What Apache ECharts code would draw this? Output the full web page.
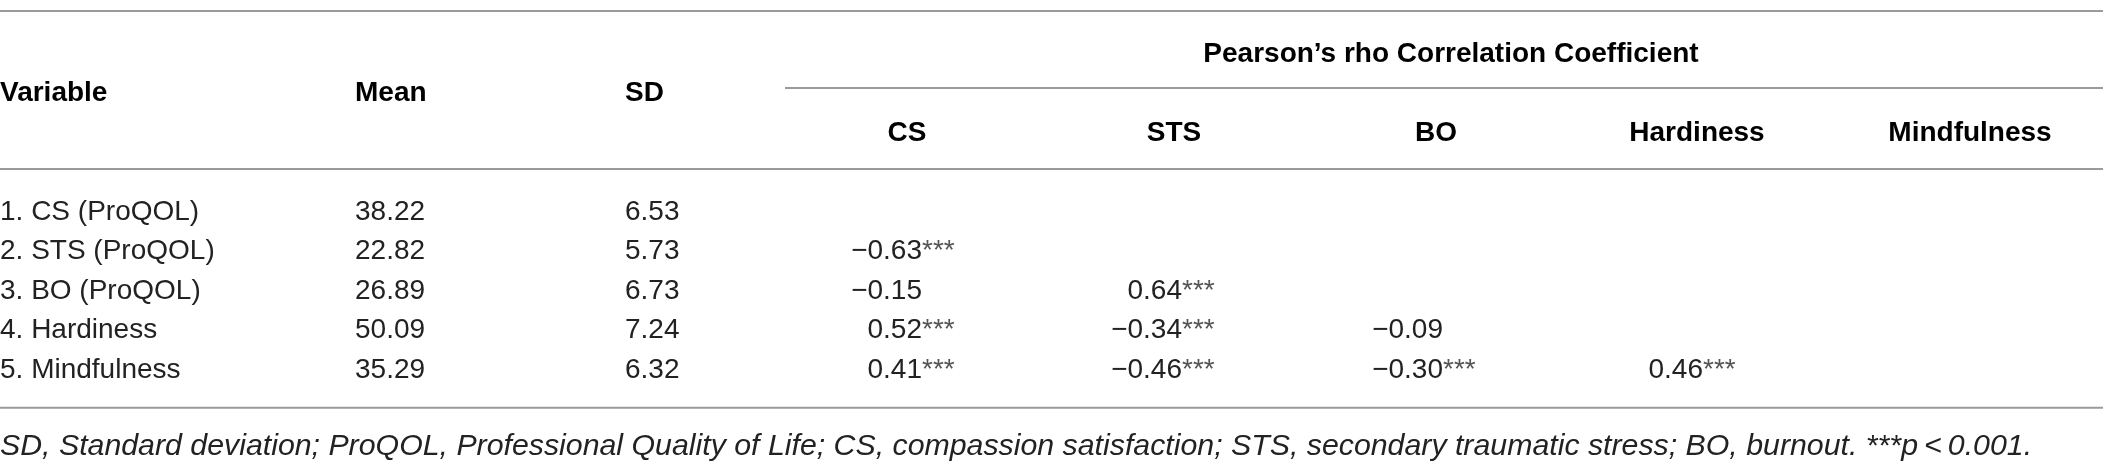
<!DOCTYPE html>
<html>
<head>
<meta charset="utf-8">
<script src="https://cdn.jsdelivr.net/npm/echarts@6/dist/echarts.min.js"></script>
<style>
html,body{margin:0;padding:0;background:#fff;}
#chart{width:2103px;height:470px;}
</style>
</head>
<body>
<div id="chart"></div>
<script>
// ---- data ----
const groupHeader = "Pearson\u2019s rho Correlation Coefficient";
const leftHeaders = ["Variable", "Mean", "SD"];
const corrHeaders = ["CS", "STS", "BO", "Hardiness", "Mindfulness"];
const variables = ["1. CS (ProQOL)", "2. STS (ProQOL)", "3. BO (ProQOL)", "4. Hardiness", "5. Mindfulness"];
const means = [38.22, 22.82, 26.89, 50.09, 35.29];
const sds = [6.53, 5.73, 6.73, 7.24, 6.32];
// lower-triangle correlations: row i holds correlations with columns 0..i-1
const corrRow1 = [];
const corrRow2 = [-0.63];
const corrRow3 = [-0.15, 0.64];
const corrRow4 = [0.52, -0.34, -0.09];
const corrRow5 = [0.41, -0.46, -0.30, 0.46];
const sigRow1 = [];
const sigRow2 = ["***"];
const sigRow3 = ["", "***"];
const sigRow4 = ["***", "***", ""];
const sigRow5 = ["***", "***", "***", "***"];
const footnote = "SD, Standard deviation; ProQOL, Professional Quality of Life; CS, compassion satisfaction; STS, secondary traumatic stress; BO, burnout. ***p\u2009<\u20090.001.";

// ---- layout (positions in axis units) ----
const corrRows = [corrRow1, corrRow2, corrRow3, corrRow4, corrRow5];
const sigRows = [sigRow1, sigRow2, sigRow3, sigRow4, sigRow5];
const leftX = [0, 355, 625];
const corrHeadX = [907, 1174, 1436, 1697, 1970];
const corrNumX = [922, 1182, 1443, 1703, 1963];
const groupX = 1451;
const ROW_GROUP = 0, ROW_LEFTHEAD = 1, ROW_SUBHEAD = 2, ROW_FIRST = 4, ROW_NOTE = 9.93;
const TEXT_DY = 4;
const FONT = "'Liberation Sans', Arial, Helvetica, sans-serif";

function fmt(v) { return (v < 0 ? "\u2212" : "") + Math.abs(v).toFixed(2); }

const cells = [];
function add(x, r, text, align, kind) { cells.push({ x, r, text, align, kind }); }
add(groupX, ROW_GROUP, groupHeader, 'center', 'head');
leftHeaders.forEach((h, i) => add(leftX[i], ROW_LEFTHEAD, h, 'left', 'head'));
corrHeaders.forEach((h, i) => add(corrHeadX[i], ROW_SUBHEAD, h, 'center', 'head'));
variables.forEach((v, i) => {
  const r = ROW_FIRST + i;
  add(leftX[0], r, v, 'left', 'body');
  add(leftX[1], r, means[i].toFixed(2), 'left', 'body');
  add(leftX[2], r, sds[i].toFixed(2), 'left', 'body');
  corrRows[i].forEach((c, j) => {
    add(corrNumX[j], r, fmt(c), 'right', 'body');
    if (sigRows[i][j]) add(corrNumX[j], r, sigRows[i][j], 'left', 'star');
  });
});
add(0, ROW_NOTE, footnote, 'left', 'note');

// rules: [x1, x2, row]
const rules = [
  [0, 2103, -0.99],
  [785, 2103, 0.96],
  [0, 2103, 3.01],
  [0, 2103, 9.06]
];

const styles = {
  head: { fontSize: 28, fontWeight: 'bold', fontStyle: 'normal', fill: '#000' },
  body: { fontSize: 28, fontWeight: 'normal', fontStyle: 'normal', fill: '#222' },
  star: { fontSize: 28, fontWeight: 'normal', fontStyle: 'normal', fill: '#555' },
  note: { fontSize: 30.3, fontWeight: 'normal', fontStyle: 'italic', fill: '#222' }
};

const chart = echarts.init(document.getElementById('chart'), null, { renderer: 'canvas' });
chart.setOption({
  animation: false,
  backgroundColor: '#fff',
  grid: { left: 0, right: 0, top: 0, bottom: 0 },
  xAxis: { type: 'value', min: 0, max: 2103, show: false },
  yAxis: { type: 'value', min: -1.266, max: 10.633, inverse: true, show: false },
  series: [
    {
      type: 'custom',
      silent: true,
      data: rules,
      renderItem: function (params, api) {
        const a = api.coord([api.value(0), api.value(2)]);
        const b = api.coord([api.value(1), api.value(2)]);
        return { type: 'line', shape: { x1: a[0], y1: a[1], x2: b[0], y2: b[1] }, style: { stroke: '#9a9a9a', lineWidth: 2 } };
      }
    },
    {
      type: 'custom',
      silent: true,
      data: cells.map(c => [c.x, c.r]),
      renderItem: function (params, api) {
        const c = cells[params.dataIndex];
        const p = api.coord([api.value(0), api.value(1)]);
        const s = styles[c.kind];
        return {
          type: 'text',
          x: p[0], y: p[1] + TEXT_DY,
          style: {
            text: c.text, fontSize: s.fontSize, fontWeight: s.fontWeight, fontStyle: s.fontStyle,
            fontFamily: FONT, fill: s.fill, align: c.align, verticalAlign: 'middle'
          }
        };
      }
    }
  ]
});
</script>
</body>
</html>
